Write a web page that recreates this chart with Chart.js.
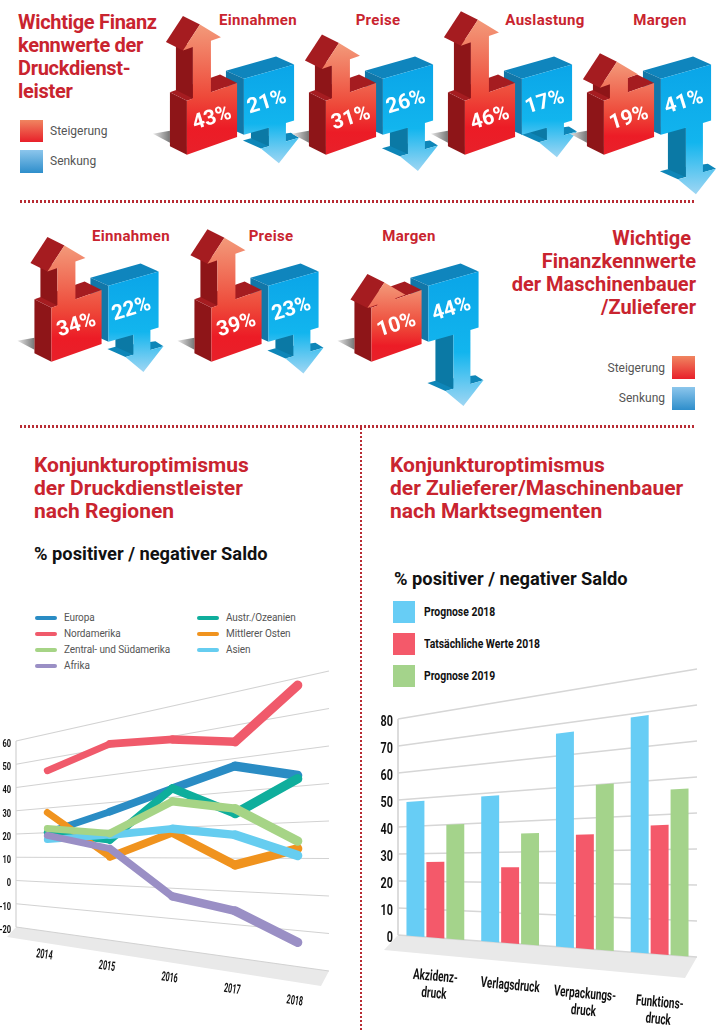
<!DOCTYPE html>
<html lang="de">
<head>
<meta charset="utf-8">
<title>Konjunkturoptimismus</title>
<script src="https://cdn.jsdelivr.net/npm/chart.js@4"></script>
<style>
  html, body { margin: 0; padding: 0; background: #fff; }
  body { position: relative; width: 720px; height: 1030px; overflow: hidden; font-family: Roboto, sans-serif; }
  canvas { position: absolute; }
  .txt { position: absolute; white-space: nowrap; }
  .titel { color: #c9242f; font-weight: 700; font-size: 20px; line-height: 23px; }
  .titel2 { color: #c9242f; font-weight: 700; font-size: 21px; line-height: 23px; }
  .kat { color: #c9242f; font-weight: 700; font-size: 15px; letter-spacing: .3px; transform: translateX(-50%); }
  .saldo { color: #111; font-weight: 700; font-size: 18.3px; }
  .leg { color: #555; font-size: 12px; line-height: 14px; }
  .leg2 { color: #555; font-size: 10px; line-height: 12px; letter-spacing: -.1px; }
  .leg3 { color: #111; font-weight: 700; font-size: 13px; line-height: 14px; transform: scaleX(.8); transform-origin: left; }
  .feld { position: absolute; }
  .hoch { background: linear-gradient(#f08560, #e8202a); }
  .runter { background: linear-gradient(#8cc6ec, #2e8ecb); }
  .strichH { position: absolute; height: 3px; background: repeating-linear-gradient(90deg, #b82c34 0 2.5px, transparent 2.5px 4px); }
  .strichV { position: absolute; width: 2px; background: repeating-linear-gradient(180deg, #b82c34 0 2.5px, transparent 2.5px 4px); }
  .linie { position: absolute; width: 22px; height: 4px; border-radius: 2px; }
</style>
</head>
<body>

<div class="txt titel" style="left:18px;top:11px;letter-spacing:-.3px">Wichtige Finanz<br>kennwerte der<br>Druckdienst-<br>leister</div>
<div class="feld hoch" style="left:20px;top:120px;width:23px;height:22px"></div>
<div class="txt leg" style="left:50px;top:124px">Steigerung</div>
<div class="feld runter" style="left:20px;top:150px;width:23px;height:23px"></div>
<div class="txt leg" style="left:50px;top:154px">Senkung</div>
<div class="txt kat" style="left:258px;top:11px">Einnahmen</div>
<div class="txt kat" style="left:378px;top:11px">Preise</div>
<div class="txt kat" style="left:545px;top:11px">Auslastung</div>
<div class="txt kat" style="left:660px;top:11px">Margen</div>

<div class="strichH" style="left:20px;top:200px;width:674px"></div>

<div class="txt kat" style="left:131px;top:227px">Einnahmen</div>
<div class="txt kat" style="left:271px;top:227px">Preise</div>
<div class="txt kat" style="left:409px;top:227px">Margen</div>
<div class="txt titel" style="right:24px;top:227px;text-align:right">Wichtige&nbsp;<br>Finanzkennwerte<br>der Maschinenbauer<br>/Zulieferer</div>
<div class="txt leg" style="right:55px;top:361px">Steigerung</div>
<div class="feld hoch" style="left:672px;top:356px;width:23px;height:23px"></div>
<div class="txt leg" style="right:55px;top:391px">Senkung</div>
<div class="feld runter" style="left:672px;top:387px;width:23px;height:23px"></div>

<div class="strichH" style="left:20px;top:425px;width:676px"></div>
<div class="strichV" style="left:360px;top:428px;height:602px"></div>

<div class="txt titel2" style="left:34px;top:454px">Konjunkturoptimismus<br>der Druckdienstleister<br>nach Regionen</div>
<div class="txt saldo" style="left:34px;top:543px">% positiver / negativer Saldo</div>
<div class="txt titel2" style="left:390px;top:454px">Konjunkturoptimismus<br>der Zulieferer/Maschinenbauer<br>nach Marktsegmenten</div>
<div class="txt saldo" style="left:394px;top:568px">% positiver / negativer Saldo</div>

<div id="legendeLinien"></div>
<div id="legendeBalken"></div>

<canvas id="chartDruck" width="730" height="240" style="left:0;top:0"></canvas>
<canvas id="chartMaschinen" width="510" height="240" style="left:0;top:207px"></canvas>
<canvas id="chartRegionen" width="360" height="370" style="left:0;top:660px"></canvas>
<canvas id="chartSegmente" width="359" height="370" style="left:361px;top:660px"></canvas>

<script>
const druckKategorien = ['Einnahmen', 'Preise', 'Auslastung', 'Margen']
const druckSteigerung = [43, 31, 46, 19]
const druckSenkung = [21, 26, 17, 41]

const maschinenKategorien = ['Einnahmen', 'Preise', 'Margen']
const maschinenSteigerung = [34, 39, 10]
const maschinenSenkung = [22, 23, 44]

const jahre = ['2014', '2015', '2016', '2017', '2018']
const europa = [20, 26.7, 32.8, 37.7, 33]
const nordamerika = [45.1, 51.3, 49, 45, 58]
const zentralSuedamerika = [21.7, 18.8, 28.6, 24.9, 14.8]
const afrika = [18.9, 13.3, -2.7, -5.9, -13.3]
const australien = [20, 16.4, 32.9, 23.4, 32.1]
const mittlererOsten = [28.2, 10.3, 18.3, 7.9, 12.7]
const asien = [17.2, 18.2, 19.6, 17, 10.8]

const segmente = [['Akzidenz-', 'druck'], 'Verlagsdruck', ['Verpackungs-', 'druck'], ['Funktions-', 'druck']]
const prognose2018 = [49, 49, 67, 69]
const tatsaechlich2018 = [27, 25, 35, 37]
const prognose2019 = [40, 36, 50, 47]

// Ebene kippen: links bleibt alles, rechts laufen oben und unten auseinander
const kippen = (chart, opts, x, y) => {
    const a = chart.chartArea
    const t = (x - a.left) / a.width
    const f = (y - a.top) / a.height
    const oben = a.top + t * opts.oben
    const unten = a.bottom + t * opts.unten
    return oben + f * (unten - oben)
}

const flaeche = (ctx, punkte, farbe) => {
    ctx.beginPath()
    punkte.forEach((p, i) => i ? ctx.lineTo(p[0], p[1]) : ctx.moveTo(p[0], p[1]))
    ctx.closePath()
    ctx.fillStyle = farbe
    ctx.fill()
}

const kippPlugin = {
    id: 'kippung',
    afterDatasetsUpdate(chart, args, opts) {
        chart.getSortedVisibleDatasetMetas().forEach(meta => {
            meta.data.forEach(el => {
                if (meta.type === 'line') {
                    el.y = kippen(chart, opts, el.x, el.y)
                } else {
                    el.draw = ctx => {
                        const l = el.x - el.width / 2
                        const r = el.x + el.width / 2
                        flaeche(ctx, [
                            [l, kippen(chart, opts, l, el.y)],
                            [r, kippen(chart, opts, r, el.y)],
                            [r, kippen(chart, opts, r, el.base)],
                            [l, kippen(chart, opts, l, el.base)]
                        ], el.options.backgroundColor)
                    }
                }
            })
        })
    },
    beforeDatasetsDraw(chart, args, opts) {
        const { ctx, chartArea: a, scales: { y } } = chart
        const hl = [a.left, kippen(chart, opts, a.left, a.bottom)]
        const hr = [a.right, kippen(chart, opts, a.right, a.bottom)]
        ctx.save()
        flaeche(ctx, [hl, hr, [hr[0] + opts.vorneR[0], hr[1] + opts.vorneR[1]], [hl[0] + opts.vorneL[0], hl[1] + opts.vorneL[1]]], '#e9e9e9')
        ctx.strokeStyle = opts.gitterFarbe
        ctx.lineWidth = opts.gitterBreite
        y.ticks.forEach(tick => {
            const py = y.getPixelForValue(tick.value)
            ctx.beginPath()
            ctx.moveTo(a.left, py)
            ctx.lineTo(a.right, kippen(chart, opts, a.right, py))
            ctx.stroke()
        })
        ctx.beginPath()
        ctx.moveTo(a.left, a.top)
        ctx.lineTo(a.left, a.bottom)
        ctx.stroke()
        // schmale Achsenzahlen
        ctx.fillStyle = '#111'
        ctx.font = opts.tickSchrift
        ctx.textAlign = 'right'
        ctx.textBaseline = 'middle'
        y.ticks.forEach(tick => {
            ctx.save()
            ctx.translate(a.left - opts.tickAbstand, y.getPixelForValue(tick.value) + 3)
            ctx.scale(opts.tickBreite, 1)
            ctx.fillText(tick.value, 0, 0)
            ctx.restore()
        })
        ctx.restore()
    },
    afterDraw(chart, args, opts) {
        const { ctx, chartArea: a, scales: { x } } = chart
        ctx.save()
        ctx.fillStyle = '#111'
        ctx.font = opts.schrift
        ctx.textAlign = 'center'
        ctx.textBaseline = 'middle'
        chart.data.labels.forEach((label, i) => {
            const px = x.getPixelForValue(i)
            const py = kippen(chart, opts, px, a.bottom + opts.abstand * a.height)
            const zeilen = Array.isArray(label) ? label : [label]
            ctx.save()
            ctx.translate(px + opts.versatz, py)
            ctx.rotate(opts.winkel)
            ctx.scale(opts.breite, 1)
            zeilen.forEach((z, n) => ctx.fillText(z, 0, n * opts.zeile))
            ctx.restore()
        })
        ctx.restore()
    }
}

// Roter Pfeil nach oben auf Quader
const steigPfeil = (ctx, el, wert) => {
    const w = el.width
    const ox = el.x - w / 2
    const oy = el.base
    const P = (a, h) => [ox + a, oy - 0.35 * a - h]
    const D = p => [p[0] - 17, p[1] - 8.5]
    const tip = el.base - el.y + 5
    const kopf = Math.max(tip - 20, 1)

    const schatten = ctx.createLinearGradient(ox - 34, 0, ox - 17, 0)
    schatten.addColorStop(0, '#e6e6e6')
    schatten.addColorStop(1, '#777')
    flaeche(ctx, [[ox - 34, oy + 33], [ox - 17, oy + 30], [ox - 17, oy + 42]], schatten)

    flaeche(ctx, [P(0, 0), D(P(0, 0)), D(P(0, -54)), P(0, -54)], '#8e1518')
    flaeche(ctx, [P(0, 0), P(w, 0), D(P(w, 0)), D(P(0, 0))], '#a51c20')
    flaeche(ctx, [P(6, 0), P(6, kopf), D(P(6, kopf)), D(P(6, 0))], '#8e1518')
    flaeche(ctx, [P(-4, kopf), P(13, tip), D(P(13, tip)), D(P(-4, kopf))], '#a51c20')

    const verlauf = ctx.createLinearGradient(0, P(13, tip)[1], 0, P(0, -54)[1])
    verlauf.addColorStop(0, '#f39a7a')
    verlauf.addColorStop(0.55, '#ee4a3a')
    verlauf.addColorStop(0.8, '#ec1c26')
    verlauf.addColorStop(1, '#e8202a')
    flaeche(ctx, [P(0, -54), P(w, -54), P(w, 0), P(24, 0), P(24, kopf), P(34, kopf), P(13, tip), P(-4, kopf), P(6, kopf), P(6, 0), P(0, 0)], verlauf)

    prozent(ctx, wert, el.x, oy + 18)
}

// Blauer Pfeil nach unten unter Quader
const senkPfeil = (ctx, el, wert) => {
    const w = el.width
    const ox = el.x - w / 2
    const oy = el.base - 22
    const P = (a, h) => [ox + a, oy - 0.28 * a + h]
    const D = p => [p[0] - 18, p[1] - 8]
    const spitze = 56 + el.y - el.base + 6
    const kopf = Math.max(spitze - 20, 57)

    flaeche(ctx, [P(0, 0), P(w, 0), D(P(w, 0)), D(P(0, 0))], '#0f85bd')
    flaeche(ctx, [P(0, 0), P(0, 56), D(P(0, 56)), D(P(0, 0))], '#1277a8')
    const rechts = P(55, kopf)
    flaeche(ctx, [D(P(17, kopf)), P(17, kopf), rechts, [rechts[0] - 8, rechts[1] - 5], D(P(25, kopf))], '#0e86b8')
    flaeche(ctx, [P(25, 56), P(25, kopf), D(P(25, kopf)), D(P(25, 56))], '#0b79a5')

    const verlauf = ctx.createLinearGradient(0, P(w, 0)[1], 0, P(35, spitze)[1])
    verlauf.addColorStop(0, '#0aa5e8')
    verlauf.addColorStop(0.6, '#12b5ee')
    verlauf.addColorStop(1, '#9fd6f3')
    flaeche(ctx, [P(0, 0), P(w, 0), P(w, 56), P(42, 56), P(42, kopf), P(55, kopf), P(35, spitze), P(17, kopf), P(25, kopf), P(25, 56), P(0, 56)], verlauf)

    prozent(ctx, wert, el.x - 2, el.base + 2)
}

const prozent = (ctx, wert, x, y) => {
    ctx.save()
    ctx.translate(x, y)
    ctx.rotate(-0.3)
    ctx.fillStyle = '#fff'
    ctx.font = '700 21px Roboto, sans-serif'
    ctx.textAlign = 'center'
    ctx.textBaseline = 'middle'
    ctx.fillText(Math.abs(wert) + '%', 0, 0)
    ctx.restore()
}

const pfeilPlugin = {
    id: 'pfeile',
    afterDatasetsUpdate(chart) {
        chart.getSortedVisibleDatasetMetas().forEach(meta => {
            const daten = chart.data.datasets[meta.index].data
            meta.data.forEach((el, i) => {
                el.draw = ctx => daten[i] > 0 ? steigPfeil(ctx, el, daten[i]) : senkPfeil(ctx, el, daten[i])
            })
        })
    }
}

const pfeilChart = (id, labels, hoch, runter, links, rechts, katAnteil) => new Chart(document.getElementById(id), {
    type: 'bar',
    data: {
        labels,
        datasets: [
            { label: 'Steigerung', data: hoch, backgroundColor: '#ed1c24', clip: false },
            { label: 'Senkung', data: runter.map(v => -v), backgroundColor: '#0aa5e8', clip: false }
        ]
    },
    options: {
        responsive: false,
        animation: false,
        layout: { padding: { left: links, right: rechts, top: 0, bottom: 0 } },
        categoryPercentage: katAnteil,
        barPercentage: 0.88,
        plugins: { legend: { display: false }, tooltip: { enabled: false } },
        scales: {
            x: { display: false },
            y: { display: false, min: -90, max: 65 }
        }
    },
    plugins: [pfeilPlugin]
})

pfeilChart('chartDruck', druckKategorien, druckSteigerung, druckSenkung, 171, 3, 0.82)
pfeilChart('chartMaschinen', maschinenKategorien, maschinenSteigerung, maschinenSenkung, 25, 5, 0.7125)

const linien = [
    { label: 'Europa', data: europa, farbe: '#2a8cc4', order: 6, lx: 35, ly: 618 },
    { label: 'Nordamerika', data: nordamerika, farbe: '#f05a6b', order: 5, lx: 35, ly: 634 },
    { label: 'Zentral- und Südamerika', data: zentralSuedamerika, farbe: '#a6d486', order: 1, lx: 35, ly: 650 },
    { label: 'Afrika', data: afrika, farbe: '#9a8fc5', order: 0, lx: 35, ly: 666 },
    { label: 'Austr./Ozeanien', data: australien, farbe: '#0fae9c', order: 4, lx: 197, ly: 618 },
    { label: 'Mittlerer Osten', data: mittlererOsten, farbe: '#f0931e', order: 3, lx: 197, ly: 634 },
    { label: 'Asien', data: asien, farbe: '#66cdf0', order: 2, lx: 197, ly: 650 }
]

const balken = [
    { label: 'Prognose 2018', data: prognose2018, farbe: '#67cdf5', ly: 601 },
    { label: 'Tatsächliche Werte 2018', data: tatsaechlich2018, farbe: '#f4596a', ly: 633 },
    { label: 'Prognose 2019', data: prognose2019, farbe: '#a4d38b', ly: 665 }
]

document.getElementById('legendeLinien').innerHTML = linien.map(s =>
    `<div class="linie" style="left:${s.lx}px;top:${s.ly - 2}px;background:${s.farbe}"></div>` +
    `<div class="txt leg2" style="left:${s.lx + 29}px;top:${s.ly - 6}px">${s.label}</div>`).join('')

document.getElementById('legendeBalken').innerHTML = balken.map(s =>
    `<div class="feld" style="left:393px;top:${s.ly}px;width:22px;height:22px;background:${s.farbe}"></div>` +
    `<div class="txt leg3" style="left:424px;top:${s.ly + 4}px">${s.label}</div>`).join('')

new Chart(document.getElementById('chartRegionen'), {
    type: 'line',
    data: {
        labels: jahre,
        datasets: linien.map(s => ({
            label: s.label,
            data: s.data,
            order: s.order,
            borderColor: s.farbe,
            borderCapStyle: 'round',
            borderJoinStyle: 'round',
            pointRadius: 0,
            clip: false,
            segment: { borderWidth: c => 6.5 + 4 * ((c.p0.parsed.x + 0.5) / 5) }
        }))
    },
    options: {
        responsive: false,
        animation: false,
        layout: { padding: { top: 81, bottom: 103, right: 31, left: 0 } },
        plugins: {
            legend: { display: false },
            tooltip: { enabled: false },
            kippung: {
                oben: -70, unten: 44, vorneL: [-9, 10], vorneR: [-8, 15],
                gitterFarbe: '#d2d2d2', gitterBreite: 1.2,
                tickSchrift: 'bold 11px Roboto, sans-serif', tickAbstand: 5, tickBreite: 0.68,
                schrift: 'bold 13px Roboto, sans-serif', abstand: 0.12, versatz: -3, winkel: 0.14, breite: 0.55, zeile: 14
            }
        },
        scales: {
            x: { display: false, offset: true },
            y: {
                min: -20, max: 60,
                afterFit: s => { s.width = 16 },
                grid: { display: false },
                border: { display: false },
                ticks: { stepSize: 10, display: false }
            }
        }
    },
    plugins: [kippPlugin]
})

new Chart(document.getElementById('chartSegmente'), {
    type: 'bar',
    data: {
        labels: segmente,
        datasets: balken.map(s => ({
            label: s.label,
            data: s.data,
            backgroundColor: s.farbe,
            categoryPercentage: 0.8,
            barPercentage: 0.9,
            clip: false
        }))
    },
    options: {
        responsive: false,
        animation: false,
        layout: { padding: { top: 59, bottom: 95, right: 23, left: 0 } },
        plugins: {
            legend: { display: false },
            tooltip: { enabled: false },
            kippung: {
                oben: -50, unten: 22, vorneL: [-14, 15], vorneR: [-12, 21],
                gitterFarbe: '#d6d6d6', gitterBreite: 1.7,
                tickSchrift: 'bold 15px Roboto, sans-serif', tickAbstand: 5, tickBreite: 0.72,
                schrift: 'bold 15px Roboto, sans-serif', abstand: 0.175, versatz: 0, winkel: 0.09, breite: 0.66, zeile: 17
            }
        },
        scales: {
            x: { display: false },
            y: {
                min: 0, max: 80,
                afterFit: s => { s.width = 37 },
                grid: { display: false },
                border: { display: false },
                ticks: { stepSize: 10, display: false }
            }
        }
    },
    plugins: [kippPlugin]
})
</script>
</body>
</html>
